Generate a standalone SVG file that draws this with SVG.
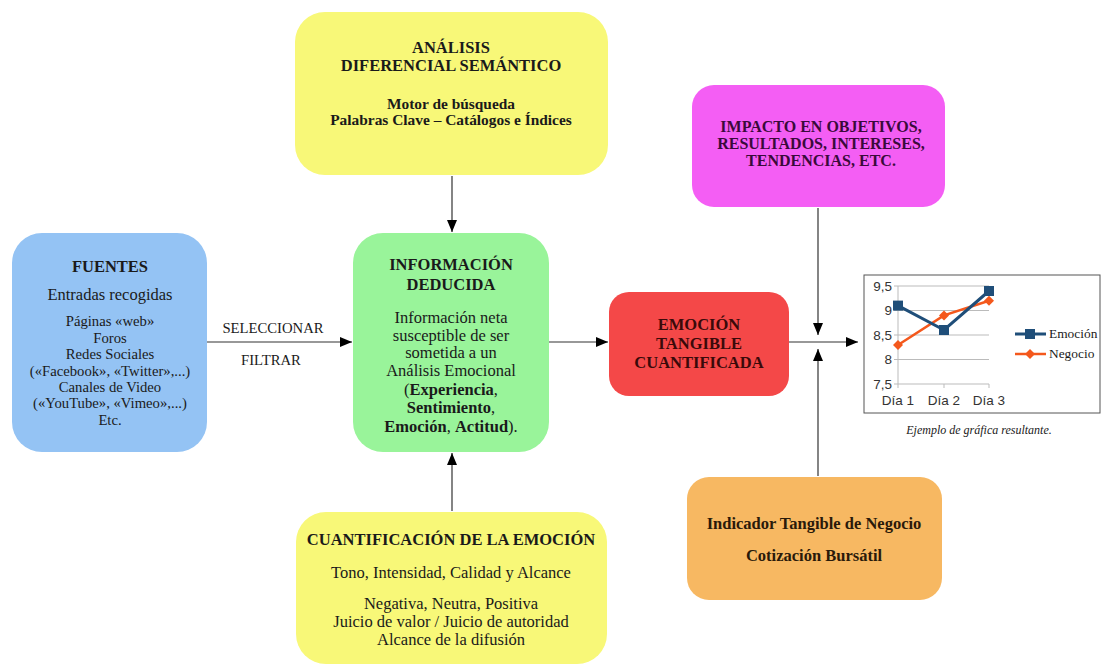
<svg xmlns="http://www.w3.org/2000/svg" width="1101" height="665" viewBox="0 0 1101 665">
<defs>
<marker id="ah" viewBox="0 0 12 10" refX="12" refY="5" markerWidth="12" markerHeight="10" markerUnits="userSpaceOnUse" orient="auto"><path d="M0,0 L12,5 L0,10 z" fill="#000"/></marker>
<style>
text{font-family:"Liberation Serif","Times New Roman",serif;fill:#1a1a1a;text-anchor:middle}
.t{font-weight:bold;font-size:16.5px}
.b{font-size:16.5px}
.s{font-size:14.7px}
.bb{font-weight:bold;font-size:15.4px}
.c{stroke:#333;stroke-width:1.2;fill:none}
.ax{font-family:"Liberation Sans",Arial,sans-serif;font-size:13.5px;fill:#333}
</style>
</defs>
<rect width="1101" height="665" fill="#fff"/>
<g id="connectors">
<line class="c" x1="207" y1="342" x2="352" y2="342" marker-end="url(#ah)"/>
<line class="c" x1="452" y1="176" x2="452" y2="232" marker-end="url(#ah)"/>
<line class="c" x1="452" y1="511" x2="452" y2="453" marker-end="url(#ah)"/>
<line class="c" x1="549" y1="342" x2="608" y2="342" marker-end="url(#ah)"/>
<line class="c" x1="789" y1="342" x2="858" y2="342" marker-end="url(#ah)"/>
<line class="c" x1="818" y1="208" x2="818" y2="335" marker-end="url(#ah)"/>
<line class="c" x1="818" y1="476" x2="818" y2="349" marker-end="url(#ah)"/>
<text class="s" x="273" y="333">SELECCIONAR</text>
<text class="s" x="271" y="365">FILTRAR</text>
</g>
<g id="fuentes">
<rect x="12" y="233" width="195" height="219" rx="30" fill="#94c3f4"/>
<text class="t" x="110" y="272">FUENTES</text>
<text class="b" x="110" y="300">Entradas recogidas</text>
<text class="s" x="110" y="326">Páginas «web»</text>
<text class="s" x="110" y="343">Foros</text>
<text class="s" x="110" y="359">Redes Sociales</text>
<text class="s" x="110" y="376">(«Facebook», «Twitter»,...)</text>
<text class="s" x="110" y="392">Canales de Video</text>
<text class="s" x="110" y="408">(«YouTube», «Vimeo»,...)</text>
<text class="s" x="110" y="425">Etc.</text>
</g>
<g id="informacion">
<rect x="353" y="233" width="196" height="219" rx="30" fill="#99f49a"/>
<text class="t" x="451" y="270">INFORMACIÓN</text>
<text class="t" x="451" y="290">DEDUCIDA</text>
<text class="b" x="451" y="323">Información neta</text>
<text class="b" x="451" y="341">susceptible de ser</text>
<text class="b" x="451" y="358">sometida a un</text>
<text class="b" x="451" y="376">Análisis Emocional</text>
<text class="b" x="451" y="395">(<tspan font-weight="bold">Experiencia</tspan>,</text>
<text class="b" x="451" y="413"><tspan font-weight="bold">Sentimiento</tspan>,</text>
<text class="b" x="451" y="432"><tspan font-weight="bold">Emoción</tspan>, <tspan font-weight="bold">Actitud</tspan>).</text>
</g>
<g id="analisis">
<rect x="295" y="12" width="313" height="163" rx="30" fill="#f8f878"/>
<text class="t" x="451" y="53">ANÁLISIS</text>
<text class="t" x="451" y="71">DIFERENCIAL SEMÁNTICO</text>
<text class="bb" x="451" y="109">Motor de búsqueda</text>
<text class="bb" x="451" y="125">Palabras Clave – Catálogos e Índices</text>
</g>
<g id="cuantificacion">
<rect x="296" y="512" width="311" height="152" rx="30" fill="#f8f878"/>
<text class="t" x="451" y="545">CUANTIFICACIÓN DE LA EMOCIÓN</text>
<text class="b" x="451" y="578">Tono, Intensidad, Calidad y Alcance</text>
<text class="b" x="451" y="609">Negativa, Neutra, Positiva</text>
<text class="b" x="451" y="627">Juicio de valor / Juicio de autoridad</text>
<text class="b" x="451" y="645">Alcance de la difusión</text>
</g>
<g id="emocion">
<rect x="609" y="292" width="180" height="104" rx="20" fill="#f44848"/>
<text class="t" x="699" y="330" style="fill:#3a0a0a">EMOCIÓN</text>
<text class="t" x="699" y="349" style="fill:#3a0a0a">TANGIBLE</text>
<text class="t" x="699" y="368" style="fill:#3a0a0a">CUANTIFICADA</text>
</g>
<g id="impacto">
<rect x="692" y="85" width="253" height="122" rx="22" fill="#f45ef4"/>
<text class="t" x="821" y="132" style="fill:#3a0a3a;font-size:16px">IMPACTO EN OBJETIVOS,</text>
<text class="t" x="821" y="149" style="fill:#3a0a3a;font-size:16px">RESULTADOS, INTERESES,</text>
<text class="t" x="821" y="166" style="fill:#3a0a3a;font-size:16px">TENDENCIAS, ETC.</text>
</g>
<g id="indicador">
<rect x="687" y="477" width="255" height="123" rx="22" fill="#f7b862"/>
<text class="t" x="814" y="529" style="fill:#2a1a0a">Indicador Tangible de Negocio</text>
<text class="t" x="814" y="561" style="fill:#2a1a0a">Cotización Bursátil</text>
</g>
<g id="grafica">
<rect x="864" y="275" width="236" height="138" fill="#fff" stroke="#555" stroke-width="1"/>
<g stroke="#bbb" stroke-width="1">
<line x1="898" y1="286" x2="989" y2="286"/>
<line x1="898" y1="310.5" x2="989" y2="310.5"/>
<line x1="898" y1="335" x2="989" y2="335"/>
<line x1="898" y1="359.5" x2="989" y2="359.5"/>
<line x1="898" y1="384" x2="989" y2="384"/>
<line x1="898" y1="286" x2="898" y2="388"/>
<line x1="944" y1="384" x2="944" y2="388"/>
<line x1="989" y1="384" x2="989" y2="388"/>
<line x1="894" y1="286" x2="898" y2="286"/>
<line x1="894" y1="310.5" x2="898" y2="310.5"/>
<line x1="894" y1="335" x2="898" y2="335"/>
<line x1="894" y1="359.5" x2="898" y2="359.5"/>
<line x1="894" y1="384" x2="898" y2="384"/>
</g>
<text class="ax" x="892" y="291" style="text-anchor:end">9,5</text>
<text class="ax" x="892" y="315" style="text-anchor:end">9</text>
<text class="ax" x="892" y="340" style="text-anchor:end">8,5</text>
<text class="ax" x="892" y="364" style="text-anchor:end">8</text>
<text class="ax" x="892" y="389" style="text-anchor:end">7,5</text>
<text class="ax" x="898" y="405">Día 1</text>
<text class="ax" x="944" y="405">Día 2</text>
<text class="ax" x="989" y="405">Día 3</text>
<polyline points="898,345 944,315.4 989,300.7" fill="none" stroke="#f4581c" stroke-width="2.5"/>
<g fill="#f4581c">
<path d="M898,340 L903,345 L898,350 L893,345 z"/>
<path d="M944,310.4 L949,315.4 L944,320.4 L939,315.4 z"/>
<path d="M989,295.7 L994,300.7 L989,305.7 L984,300.7 z"/>
</g>
<polyline points="898,305.6 944,330 989,291" fill="none" stroke="#1f4e79" stroke-width="3"/>
<g fill="#1f4e79">
<rect x="893" y="300.6" width="10" height="10"/>
<rect x="939" y="325" width="10" height="10"/>
<rect x="984" y="286" width="10" height="10"/>
</g>
<line x1="1015" y1="334" x2="1046" y2="334" stroke="#1f4e79" stroke-width="3"/>
<rect x="1025" y="329" width="10" height="10" fill="#1f4e79"/>
<line x1="1015" y1="354" x2="1046" y2="354" stroke="#f4581c" stroke-width="2.5"/>
<path d="M1030,349 L1035,354 L1030,359 L1025,354 z" fill="#f4581c"/>
<text x="1049" y="338" style="font-size:13.4px;text-anchor:start">Emoción</text>
<text x="1049" y="358" style="font-size:13.4px;text-anchor:start">Negocio</text>
<text x="979" y="434" style="font-size:12px;font-style:italic">Ejemplo de gráfica resultante.</text>
</g>
</svg>
